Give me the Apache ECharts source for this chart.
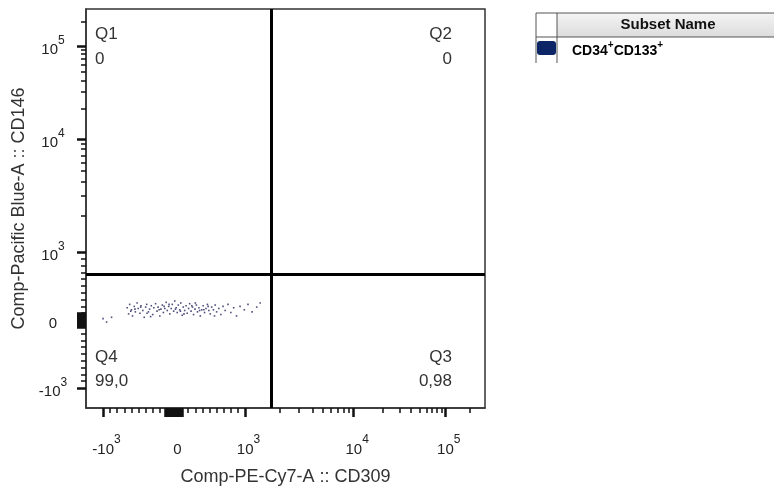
<!DOCTYPE html>
<html>
<head>
<meta charset="utf-8">
<script src="https://cdn.jsdelivr.net/npm/echarts@6/dist/echarts.min.js"></script>
<style>
  html, body { margin: 0; padding: 0; background: #fff; }
  #chart { width: 774px; height: 488px; }
</style>
</head>
<body>
<div id="chart"></div>
<script>
// Tick positions (raw fluorescence) and their labels
const xTickValues = [-1000, 0, 1000, 10000, 100000];
const xTickLabels = ['-10^3', '0', '10^3', '10^4', '10^5'];
const yTickValues = [-1000, 0, 1000, 10000, 100000];
const yTickLabels = ['-10^3', '0', '10^3', '10^4', '10^5'];

// Quadrant gate thresholds (raw)
const gateX = 1700;
const gateY = 680;

// Quadrant names and frequencies (%)
const quadrantNames = ['Q1', 'Q2', 'Q3', 'Q4'];
const quadrantFreqs = ['0', '0', '0,98', '99,0'];

// Subset shown in the legend table
const subsetHeader = 'Subset Name';
const subsetColor = '#0c2566';

// Events: [PE-Cy7 CD309, Pacific Blue CD146] raw values
const cellEvents = [
  [-1000, 20], [-950, -30], [-880, 40],
  [-660, 180], [-640, 90], [-625, 230], [-600, 150], [-585, 60], [-560, 200], [-545, 120],
  [-520, 250], [-505, 170], [-480, 100], [-465, 210], [-440, 140], [-420, 40], [-400, 190],
  [-385, 230], [-360, 120], [-345, 160], [-320, 210], [-300, 80], [-285, 180], [-260, 240],
  [-240, 130], [-225, 190], [-200, 60], [-185, 160], [-165, 220], [-150, 110], [-130, 170],
  [-110, 260], [-95, 140], [-75, 200], [-60, 90], [-40, 170], [-25, 230], [-5, 130], [10, 280],
  [30, 180], [45, 110], [60, 220], [80, 150], [95, 250], [115, 70], [130, 190], [150, 140],
  [170, 210], [185, 100], [205, 170], [220, 240], [240, 130], [260, 190], [275, 80], [295, 160],
  [315, 220], [330, 120], [350, 180], [370, 60], [390, 150], [410, 210], [430, 110], [450, 170],
  [470, 230], [490, 140], [510, 90], [530, 190], [555, 150], [580, 220], [600, 120], [630, 170],
  [660, 80], [690, 200], [720, 140], [760, 230], [800, 110], [840, 180], [880, 60], [930, 200],
  [990, 150], [1060, 230], [1150, 120], [1260, 190], [1350, 250],
  [-610, 130], [-470, 190], [-330, 50], [-210, 150], [-70, 230], [20, 160], [140, 90], [250, 210],
  [360, 140], [480, 200], [570, 60], [-550, 160], [-380, 100], [-140, 200], [90, 130], [300, 250],
  [420, 150]
];

// Biexponential-style display transform: linear within +-1000, log-like beyond
function biex(v, a, b) {
  const s = v < 0 ? -1 : 1;
  const m = Math.abs(v);
  if (m <= 1000) return v / 1000;
  const L = Math.log10(m / 1000);
  return s * (1 + a * L + b * L * L);
}
const fx = v => biex(v, 1.65, -0.12);
const fy = v => biex(v, 1.805, -0.145);

// Minor tick raw values
function minorTicks(maxRaw) {
  const out = [];
  for (let v = -900; v <= 900; v += 100) if (v !== 0) out.push(v);
  for (let d = 1000; d <= 100000; d *= 10) {
    for (let k = 2; k <= 9; k++) if (k * d <= maxRaw) out.push(k * d);
  }
  return out;
}
// Dense ticks right around zero
function zeroTicks(span) {
  const out = [];
  for (let v = -span; v <= span; v += 20) out.push(v);
  return out;
}

const xMajor = xTickValues.map(fx).concat(zeroTicks(120).map(fx));
const yMajor = yTickValues.map(fy).concat(zeroTicks(100).map(fy));
const xMinor = minorTicks(200000).map(fx);
const yMinor = minorTicks(200000).map(fy);

function labelRich(str) {
  const i = str.indexOf('^');
  if (i < 0) return '{b|' + str + '}';
  return '{b|' + str.slice(0, i) + '}{s|' + str.slice(i + 1) + '}';
}
function makeFormatter(values, labels, f) {
  return function (val) {
    for (let i = 0; i < values.length; i++) {
      if (Math.abs(f(values[i]) - val) < 1e-6) return labelRich(labels[i]);
    }
    return '';
  };
}
const labelFamily = 'Liberation Sans, Arial';
// x labels: exponent hangs to the right, base stays centred on the tick
const richX = {
  b: { fontSize: 15, fontFamily: labelFamily, color: '#222', verticalAlign: 'bottom', lineHeight: 23, padding: [0, 0, 0, 7] },
  s: { fontSize: 12, fontFamily: labelFamily, color: '#222', verticalAlign: 'top' }
};
const richY = {
  b: { fontSize: 15, fontFamily: labelFamily, color: '#222', verticalAlign: 'bottom', lineHeight: 23 },
  s: { fontSize: 12, fontFamily: labelFamily, color: '#222', verticalAlign: 'top' }
};

const axisFont = { fontSize: 18, fontFamily: labelFamily, color: '#333' };

const chart = echarts.init(document.getElementById('chart'), null, { renderer: 'canvas' });

const qFont = { fontSize: 17, fontFamily: labelFamily, fill: '#333' };
function qText(x, y, text, align) {
  return { type: 'text', x: x, y: y, silent: true,
    style: Object.assign({ text: text, align: align, verticalAlign: 'middle' }, qFont) };
}

const plotRect = { left: 86, top: 9, width: 399, height: 399, outerBoundsMode: 'none', containLabel: false };
const xRange = { min: -1.24, max: 4.38 };
const yRange = { min: -1.294, max: 4.574 };

chart.setOption({
  animation: false,
  backgroundColor: '#fff',
  grid: [
    Object.assign({ show: true, borderColor: '#333', borderWidth: 1.5 }, plotRect),
    Object.assign({ show: false }, plotRect)
  ],
  xAxis: [
    Object.assign({
      type: 'value', gridIndex: 0, position: 'bottom',
      name: 'Comp-PE-Cy7-A :: CD309', nameLocation: 'middle', nameGap: 60, nameTextStyle: axisFont,
      axisLine: { show: true, onZero: false, lineStyle: { color: '#333', width: 1.5 } },
      axisTick: { show: true, customValues: xMajor, length: 9, lineStyle: { color: '#111', width: 2.5 } },
      axisLabel: { show: true, customValues: xTickValues.map(fx), margin: 26,
        formatter: makeFormatter(xTickValues, xTickLabels, fx), rich: richX },
      splitLine: { show: false }
    }, xRange),
    Object.assign({
      type: 'value', gridIndex: 1, position: 'bottom',
      axisLine: { show: false, onZero: false },
      axisTick: { show: true, customValues: xMinor, length: 5, lineStyle: { color: '#111', width: 1.5 } },
      axisLabel: { show: false },
      splitLine: { show: false }
    }, xRange)
  ],
  yAxis: [
    Object.assign({
      type: 'value', gridIndex: 0, position: 'left',
      name: 'Comp-Pacific Blue-A :: CD146', nameLocation: 'middle', nameGap: 50, nameTextStyle: axisFont,
      axisLine: { show: true, onZero: false, lineStyle: { color: '#333', width: 1.5 } },
      axisTick: { show: true, customValues: yMajor, length: 9, lineStyle: { color: '#111', width: 2.5 } },
      axisLabel: { show: true, customValues: yTickValues.map(fy), margin: 33, align: 'center',
        formatter: makeFormatter(yTickValues, yTickLabels, fy), rich: richY },
      splitLine: { show: false }
    }, yRange),
    Object.assign({
      type: 'value', gridIndex: 1, position: 'left',
      axisLine: { show: false, onZero: false },
      axisTick: { show: true, customValues: yMinor, length: 5, lineStyle: { color: '#111', width: 1.5 } },
      axisLabel: { show: false },
      splitLine: { show: false }
    }, yRange)
  ],
  series: [
    {
      type: 'scatter',
      xAxisIndex: 0, yAxisIndex: 0,
      symbol: 'rect', symbolSize: 1.6,
      itemStyle: { color: '#23235e' },
      data: cellEvents.map(p => [fx(p[0]), fy(p[1])]),
      markLine: {
        silent: true, symbol: 'none', animation: false,
        label: { show: false },
        lineStyle: { color: '#000', width: 3, type: 'solid' },
        data: [{ xAxis: fx(gateX) }, { yAxis: fy(gateY) }]
      }
    }
  ],
  graphic: [
    qText(95, 34, quadrantNames[0], 'left'),
    qText(95, 59, quadrantFreqs[0], 'left'),
    qText(452, 34, quadrantNames[1], 'right'),
    qText(452, 59, quadrantFreqs[1], 'right'),
    qText(452, 357, quadrantNames[2], 'right'),
    qText(452, 381, quadrantFreqs[2], 'right'),
    qText(95, 357, quadrantNames[3], 'left'),
    qText(95, 381, quadrantFreqs[3], 'left'),
    // legend table
    { type: 'rect', silent: true, shape: { x: 557, y: 13, width: 230, height: 24 },
      style: { fill: new echarts.graphic.LinearGradient(0, 0, 0, 1, [
        { offset: 0, color: '#f4f4f4' }, { offset: 1, color: '#dcdcdc' }]) } },
    { type: 'line', silent: true, shape: { x1: 536, y1: 13, x2: 774, y2: 13 }, style: { stroke: '#555', lineWidth: 1 } },
    { type: 'line', silent: true, shape: { x1: 536, y1: 37, x2: 774, y2: 37 }, style: { stroke: '#555', lineWidth: 1 } },
    { type: 'line', silent: true, shape: { x1: 536, y1: 13, x2: 536, y2: 63 }, style: { stroke: '#555', lineWidth: 1 } },
    { type: 'line', silent: true, shape: { x1: 557, y1: 13, x2: 557, y2: 63 }, style: { stroke: '#555', lineWidth: 1 } },
    { type: 'rect', silent: true, shape: { x: 537, y: 41, width: 19, height: 14, r: 3 }, style: { fill: subsetColor } },
    { type: 'text', silent: true, x: 668, y: 25,
      style: { text: subsetHeader, align: 'center', verticalAlign: 'middle', fontSize: 15, fontWeight: 'bold',
        fontFamily: labelFamily, fill: '#111' } },
    { type: 'text', silent: true, x: 572, y: 49,
      style: { text: '{t|CD34}{p|+}{t|CD133}{p|+}', align: 'left', verticalAlign: 'middle',
        rich: {
          t: { fontSize: 14, fontWeight: 'bold', fontFamily: labelFamily, fill: '#000', verticalAlign: 'bottom', lineHeight: 18 },
          p: { fontSize: 10, fontWeight: 'bold', fontFamily: labelFamily, fill: '#000', verticalAlign: 'top' }
        } } }
  ]
});
</script>
</body>
</html>
